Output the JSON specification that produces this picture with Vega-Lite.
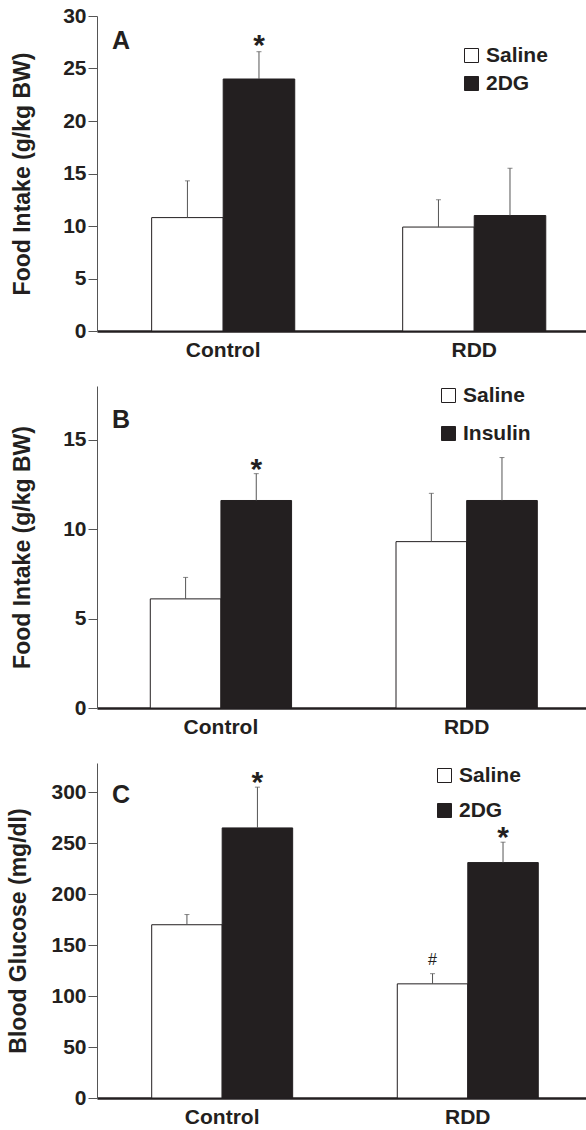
{
  "$schema": "https://vega.github.io/schema/vega-lite/v6.json",
  "background": "white",
  "padding": {"left": 7, "top": 5, "right": 0, "bottom": 5},
  "bounds": "flush",
  "spacing": 55,
  "config": {
    "view": {"stroke": null},
    "font": "Liberation Sans",
    "axis": {
      "labelFont": "Liberation Sans",
      "titleFont": "Liberation Sans",
      "labelFontWeight": "bold",
      "titleFontWeight": "bold",
      "labelColor": "#231f20",
      "titleColor": "#231f20",
      "grid": false
    },
    "axisY": {
      "labelFontSize": 21,
      "titleFontSize": 23,
      "tickSize": 9,
      "labelPadding": 2,
      "domainColor": "#555555",
      "tickColor": "#555555",
      "domainWidth": 1,
      "tickWidth": 1
    },
    "axisX": {
      "labelFontSize": 21,
      "ticks": false,
      "tickSize": 0,
      "labelPadding": 8,
      "domainColor": "#231f20",
      "domainWidth": 2.5,
      "labelAngle": 0,
      "title": null
    },
    "legend": {
      "title": null,
      "orient": "none",
      "symbolType": "square",
      "symbolSize": 196,
      "symbolStrokeColor": "#231f20",
      "symbolStrokeWidth": 1,
      "labelFont": "Liberation Sans",
      "labelFontSize": 21,
      "labelFontWeight": "bold",
      "labelColor": "#231f20",
      "labelOffset": 4,
      "padding": 0
    },
    "title": {
      "font": "Liberation Sans",
      "fontSize": 25,
      "fontWeight": "bold",
      "color": "#231f20",
      "anchor": "start",
      "frame": "group",
      "offset": 0,
      "baseline": "alphabetic"
    }
  },
  "datasets": {
    "bars": [
      {"panel": "A", "group": "Control", "treatment": "Saline", "mean": 10.8, "upper": 14.3, "sig": ""},
      {"panel": "A", "group": "Control", "treatment": "2DG", "mean": 24.0, "upper": 26.6, "sig": "*"},
      {"panel": "A", "group": "RDD", "treatment": "Saline", "mean": 9.9, "upper": 12.5, "sig": ""},
      {"panel": "A", "group": "RDD", "treatment": "2DG", "mean": 11.0, "upper": 15.5, "sig": ""},
      {"panel": "B", "group": "Control", "treatment": "Saline", "mean": 6.1, "upper": 7.3, "sig": ""},
      {"panel": "B", "group": "Control", "treatment": "Insulin", "mean": 11.6, "upper": 13.1, "sig": "*"},
      {"panel": "B", "group": "RDD", "treatment": "Saline", "mean": 9.3, "upper": 12.0, "sig": ""},
      {"panel": "B", "group": "RDD", "treatment": "Insulin", "mean": 11.6, "upper": 14.0, "sig": ""},
      {"panel": "C", "group": "Control", "treatment": "Saline", "mean": 170, "upper": 180, "sig": ""},
      {"panel": "C", "group": "Control", "treatment": "2DG", "mean": 265, "upper": 305, "sig": "*"},
      {"panel": "C", "group": "RDD", "treatment": "Saline", "mean": 112, "upper": 122, "sig": "#"},
      {"panel": "C", "group": "RDD", "treatment": "2DG", "mean": 231, "upper": 251, "sig": "*"}
    ]
  },
  "vconcat": [
    {
      "width": 489,
      "height": 315,
      "data": {"name": "bars"},
      "transform": [{"filter": "datum.panel === 'A'"}],
      "title": {"text": "A", "dx": 15, "dy": 52.5},
      "encoding": {
        "x": {"field": "group", "type": "nominal", "sort": ["Control", "RDD"],
              "scale": {"paddingInner": 0.43, "paddingOuter": 0.189, "align": 0.576}},
        "xOffset": {"field": "treatment", "type": "nominal", "sort": ["Saline", "2DG"],
                    "scale": {"paddingInner": 0, "paddingOuter": 0}}
      },
      "layer": [
        {
          "mark": {"type": "bar", "stroke": "#231f20", "strokeWidth": 1},
          "encoding": {
            "y": {"field": "mean", "type": "quantitative",
                  "scale": {"domain": [0, 30], "nice": false},
                  "axis": {"title": "Food Intake (g/kg BW)", "values": [0, 5, 10, 15, 20, 25, 30], "titlePadding": 28}},
            "fill": {"field": "treatment", "type": "nominal",
                     "scale": {"domain": ["Saline", "2DG"], "range": ["#ffffff", "#231f20"]},
                     "legend": {"legendX": 364, "legendY": 29, "rowPadding": 6}}
          }
        },
        {
          "mark": {"type": "rule", "color": "#555555", "strokeWidth": 1},
          "encoding": {"y": {"field": "mean", "type": "quantitative"}, "y2": {"field": "upper"}}
        },
        {
          "mark": {"type": "tick", "orient": "horizontal", "size": 5, "thickness": 1, "color": "#555555"},
          "encoding": {"y": {"field": "upper", "type": "quantitative"}}
        },
        {
          "transform": [{"filter": "datum.sig === '*'"}],
          "mark": {"type": "text", "fontSize": 30, "fontWeight": "bold", "color": "#231f20", "baseline": "alphabetic", "dy": 3},
          "encoding": {"y": {"field": "upper", "type": "quantitative"}, "text": {"field": "sig"}}
        }
      ]
    },
    {
      "width": 489,
      "height": 322,
      "data": {"name": "bars"},
      "transform": [{"filter": "datum.panel === 'B'"}],
      "title": {"text": "B", "dx": 15, "dy": 52},
      "encoding": {
        "x": {"field": "group", "type": "nominal", "sort": ["Control", "RDD"],
              "scale": {"paddingInner": 0.425, "paddingOuter": 0.2075, "align": 0.5225}},
        "xOffset": {"field": "treatment", "type": "nominal", "sort": ["Saline", "Insulin"],
                    "scale": {"paddingInner": 0, "paddingOuter": 0}}
      },
      "layer": [
        {
          "mark": {"type": "bar", "stroke": "#231f20", "strokeWidth": 1},
          "encoding": {
            "y": {"field": "mean", "type": "quantitative",
                  "scale": {"domain": [0, 18], "nice": false},
                  "axis": {"title": "Food Intake (g/kg BW)", "values": [0, 5, 10, 15], "titlePadding": 28}},
            "fill": {"field": "treatment", "type": "nominal",
                     "scale": {"domain": ["Saline", "Insulin"], "range": ["#ffffff", "#231f20"]},
                     "legend": {"legendX": 341, "legendY": -1, "rowPadding": 16}}
          }
        },
        {
          "mark": {"type": "rule", "color": "#555555", "strokeWidth": 1},
          "encoding": {"y": {"field": "mean", "type": "quantitative"}, "y2": {"field": "upper"}}
        },
        {
          "mark": {"type": "tick", "orient": "horizontal", "size": 5, "thickness": 1, "color": "#555555"},
          "encoding": {"y": {"field": "upper", "type": "quantitative"}}
        },
        {
          "transform": [{"filter": "datum.sig === '*'"}],
          "mark": {"type": "text", "fontSize": 30, "fontWeight": "bold", "color": "#231f20", "baseline": "alphabetic", "dy": 5},
          "encoding": {"y": {"field": "upper", "type": "quantitative"}, "text": {"field": "sig"}}
        }
      ]
    },
    {
      "width": 489,
      "height": 335,
      "data": {"name": "bars"},
      "transform": [{"filter": "datum.panel === 'C'"}],
      "title": {"text": "C", "dx": 15, "dy": 49},
      "encoding": {
        "x": {"field": "group", "type": "nominal", "sort": ["Control", "RDD"],
              "scale": {"paddingInner": 0.426, "paddingOuter": 0.2085, "align": 0.534}},
        "xOffset": {"field": "treatment", "type": "nominal", "sort": ["Saline", "2DG"],
                    "scale": {"paddingInner": 0, "paddingOuter": 0}}
      },
      "layer": [
        {
          "mark": {"type": "bar", "stroke": "#231f20", "strokeWidth": 1},
          "encoding": {
            "y": {"field": "mean", "type": "quantitative",
                  "scale": {"domain": [0, 328.7], "nice": false},
                  "axis": {"title": "Blood Glucose (mg/dl)", "values": [0, 50, 100, 150, 200, 250, 300], "titlePadding": 20}},
            "fill": {"field": "treatment", "type": "nominal",
                     "scale": {"domain": ["Saline", "2DG"], "range": ["#ffffff", "#231f20"]},
                     "legend": {"legendX": 337, "legendY": 2, "rowPadding": 13}}
          }
        },
        {
          "mark": {"type": "rule", "color": "#555555", "strokeWidth": 1},
          "encoding": {"y": {"field": "mean", "type": "quantitative"}, "y2": {"field": "upper"}}
        },
        {
          "mark": {"type": "tick", "orient": "horizontal", "size": 5, "thickness": 1, "color": "#555555"},
          "encoding": {"y": {"field": "upper", "type": "quantitative"}}
        },
        {
          "transform": [{"filter": "datum.sig === '*'"}],
          "mark": {"type": "text", "fontSize": 30, "fontWeight": "bold", "color": "#231f20", "baseline": "alphabetic", "dy": 5},
          "encoding": {"y": {"field": "upper", "type": "quantitative"}, "text": {"field": "sig"}}
        },
        {
          "transform": [{"filter": "datum.sig === '#'"}],
          "mark": {"type": "text", "fontSize": 16, "fontWeight": "normal", "color": "#231f20", "baseline": "alphabetic", "dy": -9},
          "encoding": {"y": {"field": "upper", "type": "quantitative"}, "text": {"field": "sig"}}
        }
      ]
    }
  ],
  "resolve": {
    "scale": {"x": "independent", "xOffset": "independent", "y": "independent", "fill": "independent"},
    "legend": {"fill": "independent"}
  }
}
